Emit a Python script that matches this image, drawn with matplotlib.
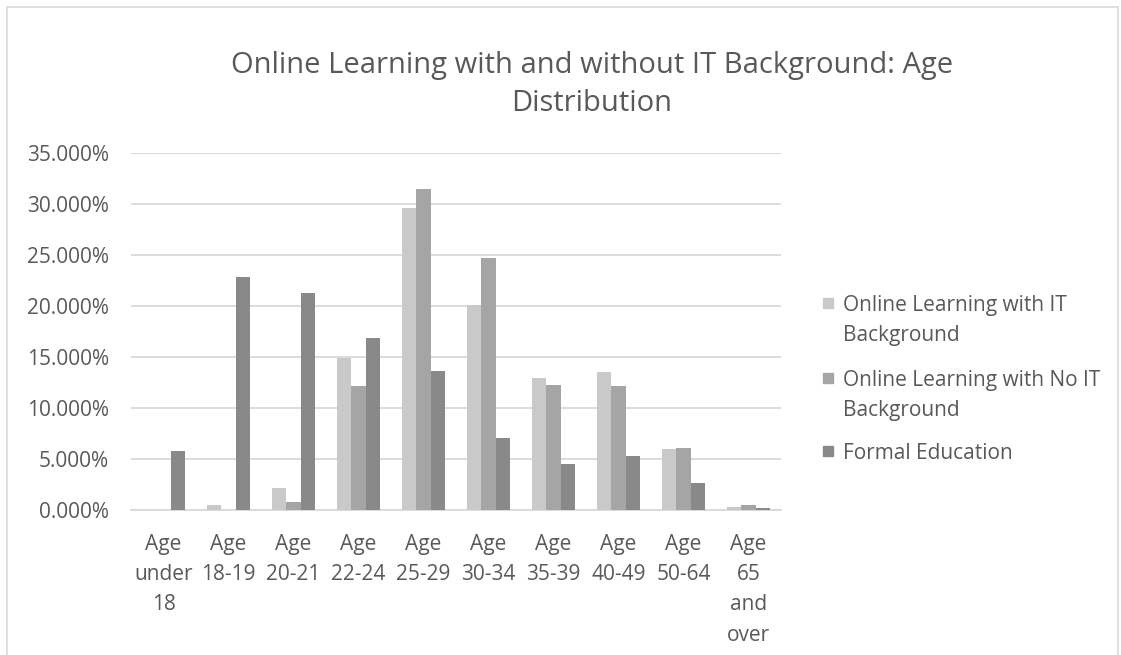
import numpy as np
import matplotlib
matplotlib.use('Agg')
import matplotlib.pyplot as plt
from matplotlib.ticker import PercentFormatter
from matplotlib.patches import Rectangle

plt.rcParams['font.family'] = ['Open Sans', 'DejaVu Sans']

ages = ['Age\nunder\n18', 'Age\n18-19', 'Age\n20-21', 'Age\n22-24', 'Age\n25-29',
        'Age\n30-34', 'Age\n35-39', 'Age\n40-49', 'Age\n50-64', 'Age\n65\nand\nover']
it_bg = [0.0, 0.46, 2.17, 14.87, 29.6, 20.1, 12.97, 13.5, 6.02, 0.3]
no_it_bg = [0.0, 0.0, 0.79, 12.12, 31.5, 24.74, 12.3, 12.17, 6.09, 0.46]
formal = [5.82, 22.87, 21.24, 16.83, 13.66, 7.04, 4.51, 5.26, 2.66, 0.2]

series = [
    ('Online Learning with IT\nBackground', it_bg, '#c9c9c9'),
    ('Online Learning with No IT\nBackground', no_it_bg, '#a5a5a5'),
    ('Formal Education', formal, '#898989'),
]

txt = '#595959'
W, H = 1121, 655
fig = plt.figure(figsize=(W / 100, H / 100), dpi=100)
ax = fig.add_axes([131 / W, 1 - 510 / H, 650 / W, (510 - 153) / H])

x = np.arange(len(ages))
w = 0.22
for i, (name, vals, col) in enumerate(series):
    ax.bar(x + (i - 1) * w, np.array(vals) / 100, w, color=col, label=name, zorder=3)

ax.set_xlim(-0.5, len(ages) - 0.5)
ax.set_ylim(0, 0.35)
ax.set_yticks(np.arange(0, 0.351, 0.05))
ax.yaxis.set_major_formatter(PercentFormatter(1, decimals=3))
ax.set_xticks(x)
ax.set_xticklabels(ages, linespacing=1.585)
ax.grid(axis='y', color='#d9d9d9', linewidth=1.3, zorder=0)
for s in ['top', 'right', 'left']:
    ax.spines[s].set_visible(False)
ax.spines['bottom'].set_color('#d9d9d9')
ax.spines['bottom'].set_linewidth(1.3)
ax.tick_params(length=0, labelsize=15, colors=txt)
ax.tick_params(axis='x', pad=17)
ax.tick_params(axis='y', pad=16)

fig.text(592 / W, 1 - 51 / H, 'Online Learning with and without IT Background: Age\nDistribution',
         ha='center', va='top', fontsize=21, color=txt, linespacing=1.4)

# legend: square next to the first line of each label, lines 30 px apart
leg_y = [303, 378, 451]
for (name, vals, col), yy in zip(series, leg_y):
    fig.patches.append(Rectangle((823 / W, 1 - (yy + 5) / H), 10 / W, 10 / H,
                                 transform=fig.transFigure, color=col))
    for k, line in enumerate(name.split('\n')):
        fig.text(843 / W, 1 - (yy + 30 * k) / H, line, ha='left',
                 va='center_baseline', fontsize=15, color=txt)

# outer chart border
fig.patches.append(Rectangle((7 / W, -0.05), 1111 / W, 1.05 - 7 / H,
                             transform=fig.transFigure, fill=False,
                             edgecolor='#d9d9d9', linewidth=1.2))

fig.savefig('out.png', dpi=100)
